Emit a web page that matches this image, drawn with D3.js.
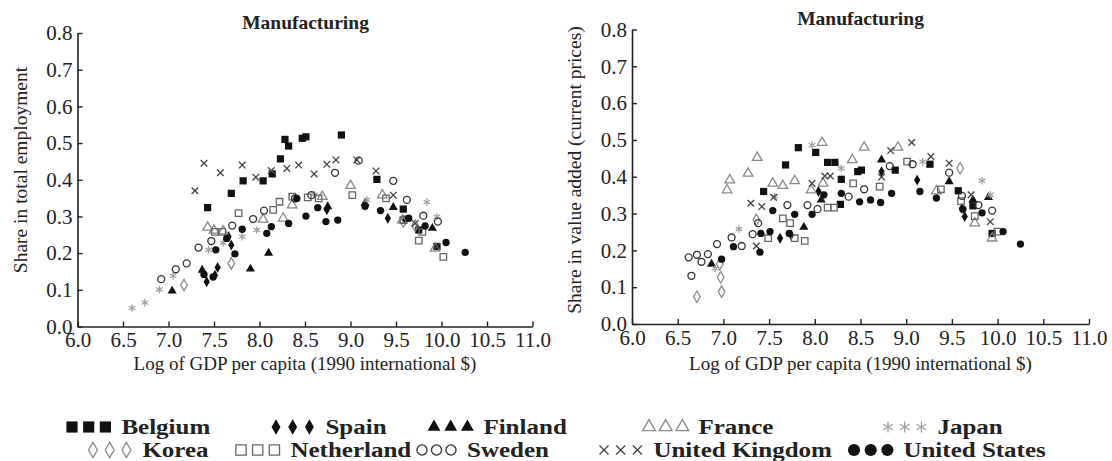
<!DOCTYPE html>
<html><head><meta charset="utf-8">
<script src="https://cdn.jsdelivr.net/npm/d3@7"></script>
<style>
body{margin:0;background:#fff;}
svg{display:block;}
text{font-family:"Liberation Serif","Times New Roman",serif;fill:#222;}
</style></head>
<body><svg id="c" width="1112" height="461"></svg>
<script>
// ---------- DATA ----------
const countries = ["Belgium","Spain","Finland","France","Japan","Korea","Netherland","Sweden","United Kingdom","United States"];
const xTicks = [6.0,6.5,7.0,7.5,8.0,8.5,9.0,9.5,10.0,10.5,11.0];
const yTicks = [0.0,0.1,0.2,0.3,0.4,0.5,0.6,0.7,0.8];
const panelTitles = ["Manufacturing","Manufacturing"];
const yTitles = ["Share in total employment","Share in value added (current prices)"];
const xTitle = "Log of GDP per capita (1990 international $)";

// Left panel: share in total employment  [log GDP per capita, share]
const empBelgium = [[8.28,0.510],[8.32,0.492],[8.47,0.513],[8.51,0.517],[8.90,0.522],[8.23,0.457],[8.14,0.416],[8.04,0.397],[7.82,0.397],[7.69,0.363],[7.43,0.324],[9.29,0.401],[9.58,0.320],[9.75,0.263],[9.95,0.218]];
const empSpain = [[7.42,0.122],[7.51,0.140],[7.54,0.161],[7.69,0.222],[7.66,0.245],[8.74,0.318],[9.16,0.330],[9.41,0.295],[9.60,0.290]];
const empFinland = [[7.04,0.097],[7.37,0.154],[7.90,0.157],[8.10,0.200],[8.75,0.327],[9.16,0.336],[9.47,0.325],[9.90,0.268]];
const empFrance = [[7.43,0.270],[7.50,0.262],[7.60,0.260],[8.04,0.292],[8.26,0.295],[8.36,0.331],[8.69,0.354],[9.00,0.384],[9.35,0.358],[9.57,0.290],[9.93,0.213]];
const empJapan = [[6.60,0.050],[6.74,0.065],[6.90,0.101],[7.05,0.138],[7.44,0.209],[7.60,0.228],[7.81,0.245],[7.97,0.263],[8.60,0.360],[9.18,0.345],[9.84,0.339],[9.95,0.299]];
const empKorea = [[7.17,0.113],[7.69,0.172],[9.58,0.286],[9.71,0.275]];
const empNetherland = [[7.51,0.258],[7.59,0.258],[7.77,0.309],[8.15,0.318],[8.22,0.340],[8.36,0.354],[8.53,0.352],[8.65,0.349],[9.02,0.358],[9.39,0.349],[9.58,0.290],[9.79,0.258],[9.75,0.234],[10.02,0.190]];
const empSweden = [[6.92,0.129],[7.08,0.156],[7.20,0.172],[7.33,0.215],[7.47,0.233],[7.70,0.275],[7.93,0.293],[8.05,0.316],[8.39,0.349],[8.57,0.358],[8.83,0.419],[9.09,0.452],[9.47,0.397],[9.62,0.345],[9.80,0.302],[9.96,0.286]];
const empUK = [[7.29,0.370],[7.39,0.445],[7.57,0.419],[7.81,0.440],[7.96,0.407],[8.13,0.425],[8.30,0.431],[8.43,0.440],[8.60,0.416],[8.74,0.442],[8.84,0.454],[9.07,0.454],[9.28,0.424],[9.47,0.358],[9.71,0.281],[9.95,0.219]];
const empUS = [[7.39,0.142],[7.49,0.135],[7.52,0.209],[7.64,0.240],[7.73,0.198],[7.81,0.265],[8.08,0.254],[8.13,0.272],[8.32,0.281],[8.41,0.349],[8.51,0.301],[8.64,0.324],[8.73,0.286],[8.86,0.290],[9.16,0.328],[9.33,0.316],[9.64,0.295],[9.82,0.274],[10.05,0.229],[10.26,0.202]];

// Right panel: share in value added (current prices)
const vaBelgium = [[7.44,0.360],[7.68,0.432],[7.82,0.479],[8.01,0.466],[8.14,0.439],[8.22,0.439],[8.29,0.393],[8.28,0.325],[8.47,0.414],[8.51,0.418],[8.88,0.418],[9.26,0.434],[9.57,0.362],[9.73,0.321],[9.94,0.246]];
const vaSpain = [[7.62,0.233],[7.74,0.242],[8.04,0.360],[8.73,0.414],[9.12,0.391],[9.61,0.314],[9.64,0.292]];
const vaFinland = [[6.87,0.163],[7.88,0.263],[8.07,0.337],[8.73,0.446],[9.47,0.387],[9.73,0.337],[9.90,0.344]];
const vaFrance = [[7.04,0.364],[7.07,0.391],[7.27,0.409],[7.37,0.452],[7.54,0.382],[7.65,0.376],[7.78,0.389],[7.96,0.364],[8.08,0.493],[8.09,0.382],[8.41,0.446],[8.54,0.480],[8.91,0.480],[9.33,0.361],[9.75,0.274],[9.94,0.233]];
const vaJapan = [[6.91,0.151],[7.17,0.258],[7.56,0.346],[7.97,0.486],[8.29,0.423],[9.18,0.441],[9.83,0.389],[9.92,0.351]];
const vaKorea = [[6.71,0.074],[6.98,0.088],[6.97,0.127],[6.96,0.163],[7.36,0.283],[9.59,0.423]];
const vaNetherland = [[7.49,0.233],[7.65,0.287],[7.73,0.274],[7.78,0.233],[7.89,0.226],[8.14,0.316],[8.21,0.316],[8.42,0.382],[8.71,0.373],[9.01,0.441],[9.38,0.366],[9.60,0.334],[9.75,0.293],[10.00,0.251]];
const vaSweden = [[6.62,0.181],[6.65,0.131],[6.71,0.188],[6.76,0.169],[6.83,0.190],[6.93,0.217],[7.09,0.235],[7.20,0.212],[7.32,0.244],[7.38,0.274],[7.70,0.323],[7.92,0.323],[8.03,0.312],[8.37,0.346],[8.54,0.366],[8.82,0.429],[9.07,0.434],[9.47,0.411],[9.61,0.348],[9.79,0.323],[9.94,0.308]];
const vaUK = [[7.30,0.328],[7.42,0.319],[7.36,0.212],[7.55,0.344],[7.97,0.382],[8.11,0.402],[8.17,0.402],[8.73,0.399],[8.83,0.471],[9.06,0.493],[9.27,0.455],[9.47,0.437],[9.71,0.351],[9.92,0.278]];
const vaUS = [[6.98,0.176],[7.11,0.210],[7.40,0.195],[7.41,0.246],[7.51,0.251],[7.54,0.308],[7.72,0.246],[7.78,0.298],[7.97,0.298],[8.10,0.351],[8.29,0.355],[8.49,0.332],[8.61,0.337],[8.72,0.330],[8.84,0.355],[9.15,0.360],[9.33,0.342],[9.62,0.312],[9.83,0.302],[10.06,0.251],[10.25,0.217]];

const empSeries = [empBelgium,empSpain,empFinland,empFrance,empJapan,empKorea,empNetherland,empSweden,empUK,empUS];
const vaSeries = [vaBelgium,vaSpain,vaFinland,vaFrance,vaJapan,vaKorea,vaNetherland,vaSweden,vaUK,vaUS];

// ---------- STYLE ----------
const styles = {
  "Belgium":        {type:d3.symbolSquare,   fill:"#111", stroke:"none", size:52, lsize:125},
  "Spain":          {type:d3.symbolDiamond,  fill:"#111", stroke:"none", size:34, lsize:68},
  "Finland":        {type:d3.symbolTriangle, fill:"#111", stroke:"none", size:36, lsize:72},
  "France":         {type:d3.symbolTriangle, fill:"none", stroke:"#8a8a8a", size:40, lsize:72},
  "Japan":          {type:d3.symbolAsterisk, fill:"none", stroke:"#a0a0a0", size:40, lsize:85},
  "Korea":          {type:d3.symbolDiamond,  fill:"none", stroke:"#8a8a8a", size:38, lsize:68},
  "Netherland":     {type:d3.symbolSquare,   fill:"none", stroke:"#666", size:42, lsize:105},
  "Sweden":         {type:d3.symbolCircle,   fill:"none", stroke:"#333", size:38, lsize:80},
  "United Kingdom": {type:d3.symbolX,        fill:"none", stroke:"#444", size:30, lsize:55},
  "United States":  {type:d3.symbolCircle,   fill:"#111", stroke:"none", size:42, lsize:115}
};

const svg = d3.select("#c");
const fmt = d3.format(".1f");

function panel(series, xr, yr, title, titleX, titleY, yTitle, yTitleX, yTitleY) {
  const x = d3.scaleLinear().domain([6,11]).range(xr);
  const y = d3.scaleLinear().domain([0,0.8]).range(yr);
  const g = svg.append("g");

  const xa = g.append("g").attr("transform",`translate(0,${yr[0]})`)
    .call(d3.axisBottom(x).tickValues(xTicks).tickFormat(fmt).tickSizeInner(-5).tickSizeOuter(0).tickPadding(6));
  const ya = g.append("g").attr("transform",`translate(${xr[0]},0)`)
    .call(d3.axisLeft(y).tickValues(yTicks).tickFormat(fmt).tickSizeInner(-5).tickSizeOuter(0).tickPadding(5));
  [xa,ya].forEach(a=>{
    a.select(".domain").attr("stroke","#222").attr("stroke-width",1.6);
    a.selectAll(".tick line").attr("stroke","#222").attr("stroke-width",1.4);
    a.selectAll(".tick text").style("font-family",'"Liberation Serif",serif').style("font-size","21px").attr("fill","#333");
  });

  countries.forEach((c,i)=>{
    const s = styles[c];
    const sym = d3.symbol().type(s.type).size(s.size);
    g.append("g").selectAll("path").data(series[i]).join("path")
      .attr("d", sym)
      .attr("transform", d=>`translate(${x(d[0])},${y(d[1])})`)
      .attr("fill", s.fill).attr("stroke", s.stroke).attr("stroke-width", 1.3);
  });

  g.append("text").attr("x",titleX).attr("y",titleY).attr("text-anchor","middle")
    .style("font-size","19.5px").style("font-weight","bold").text(title);
  g.append("text").attr("x",(xr[0]+xr[1])/2).attr("y",370).attr("text-anchor","middle")
    .style("font-size","19px").text(xTitle);
  g.append("text").attr("transform",`translate(${yTitleX},${yTitleY}) rotate(-90)`).attr("text-anchor","middle")
    .style("font-size","19.5px").text(yTitle);
}

panel(empSeries, [77.5,532.5], [326.5,33], panelTitles[0], 305.5, 29, yTitles[0], 27, 170);
panel(vaSeries, [632,1089], [324,29.5], panelTitles[1], 860.5, 25, yTitles[1], 581, 170);

// ---------- LEGEND ----------
const legendRow1 = ["Belgium","Spain","Finland","France","Japan"];
const legendRow2 = ["Korea","Netherland","Sweden","United Kingdom","United States"];
const row1X = [66,270,428,643,882];
const row2X = [87,235,416,598,848];
function legendRow(names, xs, baseY) {
  names.forEach((n,i)=>{
    const s = styles[n];
    const sym = d3.symbol().type(s.type).size(s.lsize);
    const step = n==="Sweden" ? 14.5 : 16.7;
    const g = svg.append("g");
    g.selectAll("path").data([0,1,2]).join("path")
      .attr("d", sym)
      .attr("transform", k=>`translate(${xs[i]+6+k*step},${baseY-6.5})`)
      .attr("fill", s.fill).attr("stroke", s.stroke).attr("stroke-width", 1.3);
    g.append("text").attr("transform",`translate(${xs[i]+12+2*step+10},${baseY}) scale(1.22,1)`)
      .style("font-size","20.5px").style("font-weight","bold").attr("fill","#2a2a2a").text(n);
  });
}
legendRow(legendRow1, row1X, 433.5);
legendRow(legendRow2, row2X, 456.5);
</script></body></html>
